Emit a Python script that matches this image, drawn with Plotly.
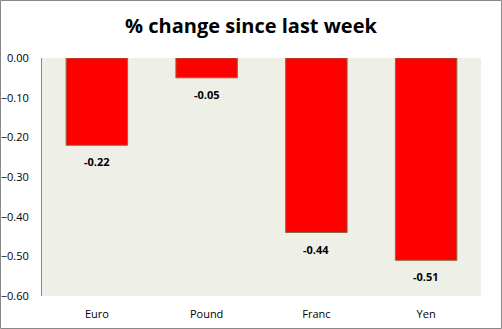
import plotly.graph_objects as go

categories = ["Euro", "Pound", "Franc", "Yen"]
values = [-0.22, -0.05, -0.44, -0.51]
tick_vals = [0, -0.1, -0.2, -0.3, -0.4, -0.5, -0.6]

W, H = 502, 329
L, R, T, B = 42, 21, 58, 33
pw, ph = W - L - R, H - T - B

fig = go.Figure(go.Bar(
    x=categories, y=values,
    marker=dict(color="#FF0000", line=dict(color="#8C6A3C", width=1)),
    cliponaxis=False,
))
for c, v in zip(categories, values):
    fig.add_annotation(x=c, y=v, text=f"<b>{v:.2f}</b>", showarrow=False,
                       yanchor="top", yshift=-7,
                       font=dict(family="Open Sans", size=11, color="#000000"))
fig.update_layout(
    width=W, height=H, margin=dict(l=L, r=R, t=T, b=B, autoexpand=False),
    paper_bgcolor="white", plot_bgcolor="#EEF0E8",
    bargap=0.44, showlegend=False,
    title=dict(text="<b>% change since last week</b>", x=0.5, xanchor="center",
               y=1 - 26 / H, yanchor="middle",
               font=dict(family="Open Sans", size=20, color="#000000")),
    font=dict(family="Open Sans", size=11, color="#000000"),
)
fig.update_xaxes(showline=False, ticks="", showgrid=False, automargin=False,
                 ticklabelstandoff=10, tickfont=dict(size=11))
fig.update_yaxes(range=[-0.6, 0], tickvals=tick_vals, tickformat=".2f",
                 showgrid=False, zeroline=False, showline=True, automargin=False,
                 linecolor="#888888", linewidth=1, ticks="",
                 ticklabelstandoff=10, tickfont=dict(size=11))
fig.add_shape(type="rect", xref="paper", yref="paper",
              x0=(0.5 - L) / pw, x1=(W - 0.5 - L) / pw,
              y0=-(B - 0.5) / ph, y1=(ph + T - 0.5) / ph,
              line=dict(color="#888888", width=1))
fig.write_html("out.html")
